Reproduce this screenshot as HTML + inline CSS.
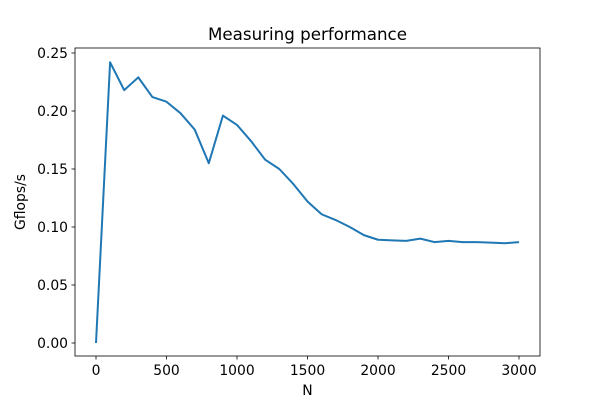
<!DOCTYPE html>
<html><head><meta charset="utf-8"><style>
html,body{margin:0;padding:0;background:#fff;}
svg{display:block;font-family:"DejaVu Sans","Liberation Sans",sans-serif;}
</style></head><body>
<svg id="chart" width="600" height="400"></svg>
<script>
const nValues = [0,100,200,300,400,500,600,700,800,900,1000,1100,1200,1300,1400,1500,1600,1700,1800,1900,2000,2100,2200,2300,2400,2500,2600,2700,2800,2900,3000];
const gflops = [0.0,0.242,0.218,0.229,0.212,0.208,0.198,0.184,0.155,0.196,0.188,0.174,0.158,0.150,0.137,0.122,0.111,0.106,0.100,0.093,0.089,0.0885,0.088,0.090,0.087,0.088,0.087,0.087,0.0865,0.086,0.087];
const xTicks = [0,500,1000,1500,2000,2500,3000];
const yTicks = [0.00,0.05,0.10,0.15,0.20,0.25];
const yTickLabels = ["0.00","0.05","0.10","0.15","0.20","0.25"];

const NS = "http://www.w3.org/2000/svg";
const svg = document.getElementById("chart");
const L=75,R=540,T=48,B=356;
const xs = v => 96 + (v/3000)*(519-96);
const ys = v => 343 - (v/0.25)*(343-53);
function mk(tag, attrs, parent){const e=document.createElementNS(NS,tag);for(const k in attrs)e.setAttribute(k,attrs[k]);(parent||svg).appendChild(e);return e;}

const frame = mk("rect",{x:L,y:T,width:R-L,height:B-T,fill:"none",stroke:"#000","stroke-width":0.8});



xTicks.forEach(v=>{
  const x=xs(v);
  mk("line",{x1:x,y1:B,x2:x,y2:B+3.5,stroke:"#000","stroke-width":0.8});
  const t=mk("text",{x:x,y:B+19,"font-size":13.9,"text-anchor":"middle"});
  t.textContent=String(v);
  
  
});
yTicks.forEach((v,i)=>{
  const y=ys(v);
  mk("line",{x1:L-3.5,y1:y,x2:L,y2:y,stroke:"#000","stroke-width":0.8});
  const t=mk("text",{x:L-7,y:y+5,"font-size":13.9,"text-anchor":"end"});
  t.textContent=yTickLabels[i];
  
  
});

const line = mk("polyline",{points:nValues.map((n,i)=>xs(n)+","+ys(gflops[i])).join(" "),fill:"none",stroke:"#1f77b4","stroke-width":2,"stroke-linejoin":"round"});



const title=mk("text",{x:(L+R)/2,y:T-8,"font-size":16.7,"text-anchor":"middle"});
title.textContent="Measuring performance";



const xl=mk("text",{x:(L+R)/2,y:B+39,"font-size":13.9,"text-anchor":"middle"});
xl.textContent="N";



const yl=mk("text",{x:0,y:0,"font-size":13.9,"text-anchor":"middle",transform:"translate(25,"+((T+B)/2)+") rotate(-90)"});
yl.textContent="Gflops/s";


</script>
</body></html>
